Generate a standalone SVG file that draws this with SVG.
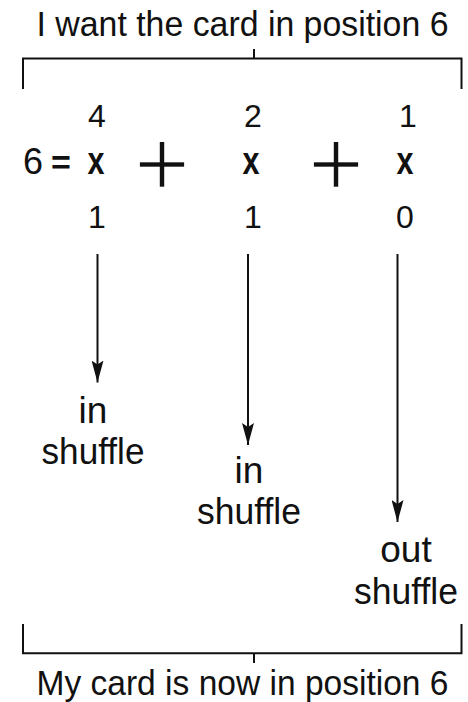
<svg xmlns="http://www.w3.org/2000/svg" width="468" height="702" viewBox="0 0 468 702">
<defs>
<style>
.t{font-family:"Liberation Sans",Arial,sans-serif;font-size:37px;fill:#111;text-anchor:middle}
.h{font-family:"Liberation Sans",Arial,sans-serif;font-size:35px;fill:#111;text-anchor:middle}
.d{font-family:"Liberation Sans",Arial,sans-serif;font-size:32px;fill:#111;text-anchor:middle}
.b{font-family:"Liberation Sans",Arial,sans-serif;font-size:38px;font-weight:bold;fill:#111;text-anchor:middle}
.p{font-family:"Liberation Sans",Arial,sans-serif;font-size:96px;fill:#111;text-anchor:middle;stroke:#fff;stroke-width:2.4px}
.ln{fill:none;stroke:#111;stroke-width:2}
</style>
<marker id="arr" viewBox="0 0 22 12" refX="22" refY="6" markerWidth="22" markerHeight="12" markerUnits="userSpaceOnUse" orient="auto">
<path d="M0,0 L22,6 L0,12 L4,6 Z" fill="#111"/>
</marker>
</defs>
<rect width="468" height="702" fill="#fff"/>
<g id="top-label">
<text class="h" x="242.5" y="36" textLength="412" lengthAdjust="spacingAndGlyphs">I want the card in position 6</text>
</g>
<g id="top-bracket">
<path class="ln" d="M23,89 V58.5 H461.5 V89 M254,49 V58.5"/>
</g>
<g id="equation">
<text class="d" x="97" y="127">4</text>
<text class="d" x="253" y="127">2</text>
<text class="d" x="408" y="127">1</text>
<text class="t" x="33" y="174" textLength="20" lengthAdjust="spacingAndGlyphs">6</text>
<text class="b" x="61" y="174" style="font-size:34px">=</text>
<text class="b" x="96" y="174" textLength="17" lengthAdjust="spacingAndGlyphs">x</text>
<text class="p" x="162" y="197">+</text>
<text class="b" x="251" y="174" textLength="17" lengthAdjust="spacingAndGlyphs">x</text>
<text class="p" x="336" y="197">+</text>
<text class="b" x="405" y="174" textLength="17" lengthAdjust="spacingAndGlyphs">x</text>
<text class="d" x="97" y="228">1</text>
<text class="d" x="253" y="228">1</text>
<text class="d" x="405" y="228">0</text>
</g>
<g id="connectors">
<line class="ln" x1="97.5" y1="254" x2="97.5" y2="382.5" marker-end="url(#arr)"/>
<line class="ln" x1="248" y1="254" x2="248" y2="445" marker-end="url(#arr)"/>
<line class="ln" x1="397.5" y1="254" x2="397.5" y2="522" marker-end="url(#arr)"/>
</g>
<g id="in-shuffle-1">
<text class="t" x="93" y="423">in</text>
<text class="t" x="93" y="464" textLength="103" lengthAdjust="spacingAndGlyphs">shuffle</text>
</g>
<g id="in-shuffle-2">
<text class="t" x="249" y="483">in</text>
<text class="t" x="249" y="524" textLength="104" lengthAdjust="spacingAndGlyphs">shuffle</text>
</g>
<g id="out-shuffle">
<text class="t" x="406" y="562">out</text>
<text class="t" x="406" y="604" textLength="104" lengthAdjust="spacingAndGlyphs">shuffle</text>
</g>
<g id="bottom-bracket">
<path class="ln" d="M23,624 V653.3 H461.5 V624 M254,653.3 V663"/>
</g>
<g id="bottom-label">
<text class="h" x="242.5" y="695" textLength="412" lengthAdjust="spacingAndGlyphs">My card is now in position 6</text>
</g>
</svg>
